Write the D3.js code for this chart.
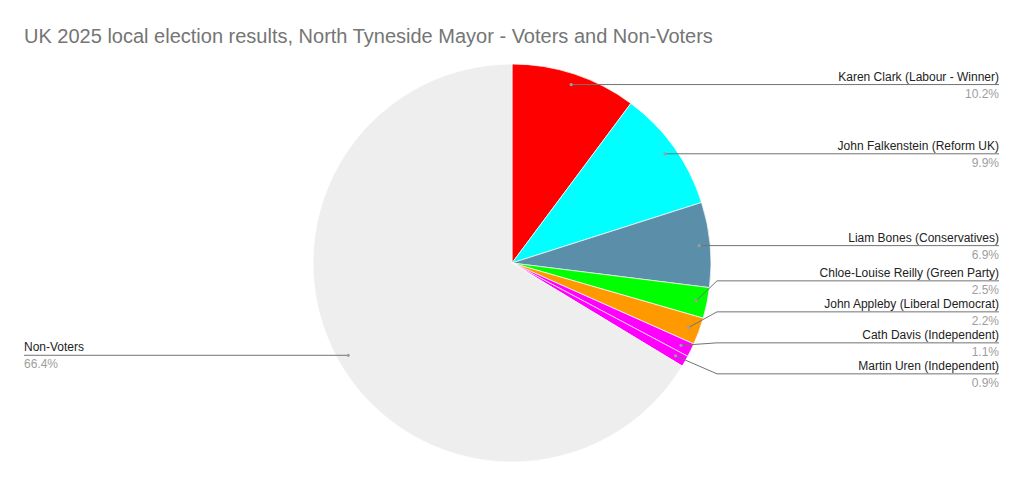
<!DOCTYPE html>
<html>
<head>
<meta charset="utf-8">
<script src="https://cdn.jsdelivr.net/npm/d3@7"></script>
<style>
  body { margin: 0; background: #fff; }
  svg { display: block; font-family: "Liberation Sans", Arial, sans-serif; }
</style>
</head>
<body>
<svg id="chart" width="1023" height="486"></svg>
<script>
// data
var candidates = ["Karen Clark (Labour - Winner)", "John Falkenstein (Reform UK)", "Liam Bones (Conservatives)",
    "Chloe-Louise Reilly (Green Party)", "John Appleby (Liberal Democrat)", "Cath Davis (Independent)",
    "Martin Uren (Independent)", "Non-Voters"]
var shares = [10.2, 9.9, 6.9, 2.5, 2.2, 1.1, 0.9, 66.4]
var shareLabels = ["10.2%", "9.9%", "6.9%", "2.5%", "2.2%", "1.1%", "0.9%", "66.4%"]
var sliceColors = ["#ff0000", "#00ffff", "#5b8fa9", "#00ff00", "#ff9900", "#ff00ff", "#ff00ff", "#eeeeee"]

var svg = d3.select("#chart"),
    cx = 512,
    cy = 263,
    radius = 199,
    dotRadius = 188,
    rightEdge = 999,
    leftEdge = 24,
    bendX = 717,
    spacing = 31,
    groupShift = -5   // crowded groups sit a little higher in the original

svg.append("text")
    .attr("x", 24)
    .attr("y", 43)
    .attr("fill", "#757575")
    .attr("font-size", 20)
    .text("UK 2025 local election results, North Tyneside Mayor - Voters and Non-Voters")

var pie = d3.pie().sort(null).value(function (d) { return d })
var arcs = pie(shares)
var arc = d3.arc().innerRadius(0).outerRadius(radius)

var g = svg.append("g").attr("transform", "translate(" + cx + "," + cy + ")")

g.selectAll(".slice")
    .data(arcs)
    .enter().append("path")
    .attr("class", "slice")
    .attr("d", arc)
    .attr("fill", function (d, i) { return sliceColors[i] })
    .attr("stroke", "#fff")
    .attr("stroke-width", 0.7)

// label anchor points on each slice
var labels = arcs.map(function (d, i) {
    var a = (d.startAngle + d.endAngle) / 2
    var px = cx + dotRadius * Math.sin(a),
        py = cy - dotRadius * Math.cos(a)
    return { i: i, px: px, py: py, y: py, right: Math.sin(a) >= 0 }
})

// spread labels on one side so they keep a minimum gap
function spread(list) {
    var groups = list.map(function (l) { return { items: [l], center: l.py } })
    var merged = true
    while (merged) {
        merged = false
        for (var k = 1; k < groups.length; k++) {
            var a = groups[k - 1], b = groups[k]
            var aBottom = a.center + (a.items.length - 1) * spacing / 2
            var bTop = b.center - (b.items.length - 1) * spacing / 2
            if (bTop - aBottom < spacing) {
                var items = a.items.concat(b.items)
                groups.splice(k - 1, 2, { items: items, center: d3.mean(items, function (l) { return l.py }) })
                merged = true
                break
            }
        }
    }
    groups.forEach(function (gr) {
        var shift = gr.items.length > 1 ? groupShift : 0
        gr.items.forEach(function (l, j) {
            l.y = gr.center + shift + (j - (gr.items.length - 1) / 2) * spacing
        })
    })
}
spread(labels.filter(function (l) { return l.right }).sort(function (a, b) { return a.py - b.py }))
spread(labels.filter(function (l) { return !l.right }).sort(function (a, b) { return a.py - b.py }))

var lab = svg.selectAll(".label")
    .data(labels)
    .enter().append("g")
    .attr("class", "label")

lab.append("polyline")
    .attr("fill", "none")
    .attr("stroke", "#737373")
    .attr("stroke-width", 1)
    .attr("points", function (l) {
        var endX = l.right ? rightEdge : leftEdge
        if (Math.abs(l.y - l.py) < 0.5) return [[l.px, l.py], [endX, l.y]].join(" ")
        var bx = l.right ? bendX : cx - (bendX - cx)
        return [[l.px, l.py], [bx, l.y], [endX, l.y]].join(" ")
    })

lab.append("circle")
    .attr("cx", function (l) { return l.px })
    .attr("cy", function (l) { return l.py })
    .attr("r", 1.6)
    .attr("fill", "#9e9e9e")

lab.append("text")
    .attr("x", function (l) { return l.right ? rightEdge : leftEdge })
    .attr("y", function (l) { return l.y - 4 })
    .attr("text-anchor", function (l) { return l.right ? "end" : "start" })
    .attr("font-size", 12)
    .attr("fill", "#222")
    .text(function (l) { return candidates[l.i] })

lab.append("text")
    .attr("x", function (l) { return l.right ? rightEdge : leftEdge })
    .attr("y", function (l) { return l.y + 13 })
    .attr("text-anchor", function (l) { return l.right ? "end" : "start" })
    .attr("font-size", 12)
    .attr("fill", "#9e9e9e")
    .text(function (l) { return shareLabels[l.i] })
</script>
</body>
</html>
